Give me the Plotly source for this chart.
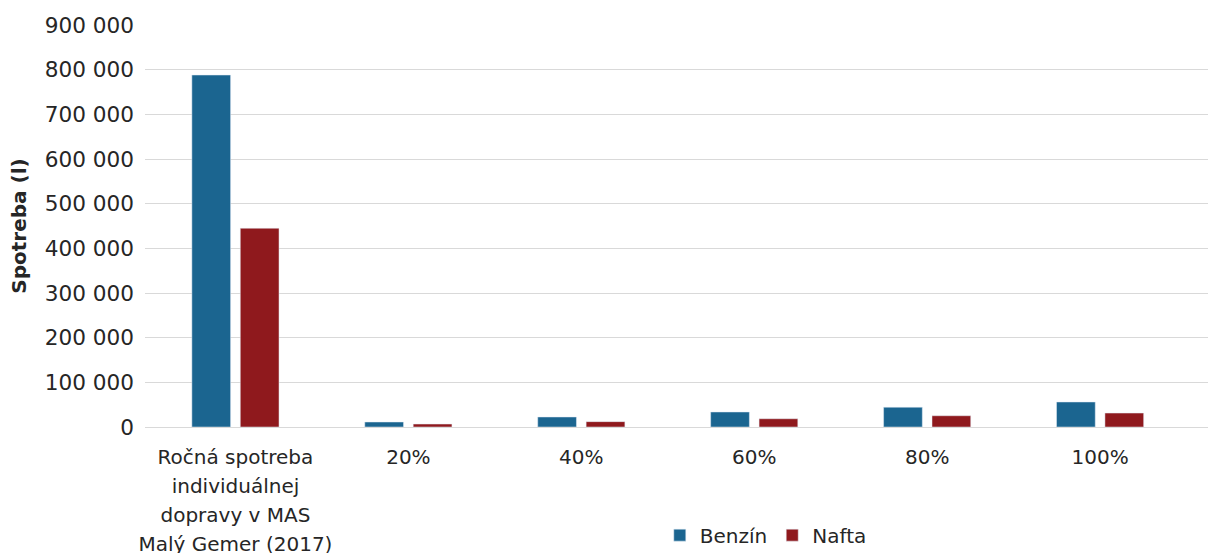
import plotly.graph_objects as go

# Categories on the x axis (first one wraps over several lines)
category_lines = [
    ["Ročná spotreba", "individuálnej", "dopravy v MAS", "Malý Gemer (2017)"],
    ["20%"], ["40%"], ["60%"], ["80%"], ["100%"],
]

# Fuel consumption in litres
benzin = [788000, 11200, 22400, 33600, 44300, 56000]
nafta = [445000, 6600, 12000, 18500, 25200, 31200]

y_ticks = [0, 100000, 200000, 300000, 400000, 500000, 600000, 700000, 800000, 900000]

BLUE = "#1B6590"
RED = "#8F191D"
TEXT = "#262626"
GRID = "#D9D9D9"
FONT = "DejaVu Sans"

# glyphs at 20px, line pitch driven by the larger base tick font
GLYPH_PX = 20
tick_text = [
    "<br>".join(f'<span style="font-size:{GLYPH_PX}px">{line}</span>' for line in lines)
    for lines in category_lines
]

x_idx = list(range(len(category_lines)))

fig = go.Figure()
fig.add_trace(go.Bar(name="Benzín", x=x_idx, y=benzin, marker_color=BLUE))
fig.add_trace(go.Bar(name="Nafta", x=x_idx, y=nafta, marker_color=RED))

fig.update_layout(
    width=1208,
    height=553,
    margin=dict(l=145, r=0, t=25, b=126, autoexpand=False),
    paper_bgcolor="white",
    plot_bgcolor="white",
    font=dict(family=FONT, size=20, color=TEXT),
    barmode="group",
    bargap=0.44,
    bargroupgap=0.2,
    separators=", ",
    showlegend=True,
    legend=dict(
        orientation="h",
        x=0.584,
        xanchor="center",
        y=-0.269,
        yanchor="middle",
        font=dict(family=FONT, size=20, color=TEXT),
        bgcolor="rgba(0,0,0,0)",
        itemwidth=30,
    ),
)

fig.update_xaxes(
    tickmode="array",
    tickvals=x_idx,
    ticktext=tick_text,
    range=[-0.523, 5.624],
    showgrid=False,
    showline=False,
    zeroline=False,
    ticks="",
    tickfont=dict(family=FONT, size=22.3, color=TEXT),
    ticklabelstandoff=14,
)

fig.update_yaxes(
    range=[0, 900000],
    tickmode="array",
    tickvals=y_ticks,
    tickformat=",.0f",
    showgrid=True,
    gridcolor=GRID,
    gridwidth=1,
    zeroline=True,
    zerolinecolor=GRID,
    zerolinewidth=1,
    showline=False,
    ticks="",
    tickfont=dict(family=FONT, size=21.6, color=TEXT),
    ticklabelstandoff=10,
    title=dict(
        text="<b>Spotreba (l)</b>",
        font=dict(family=FONT, size=20, color=TEXT),
        standoff=12,
    ),
)

fig.write_html("out.html")
